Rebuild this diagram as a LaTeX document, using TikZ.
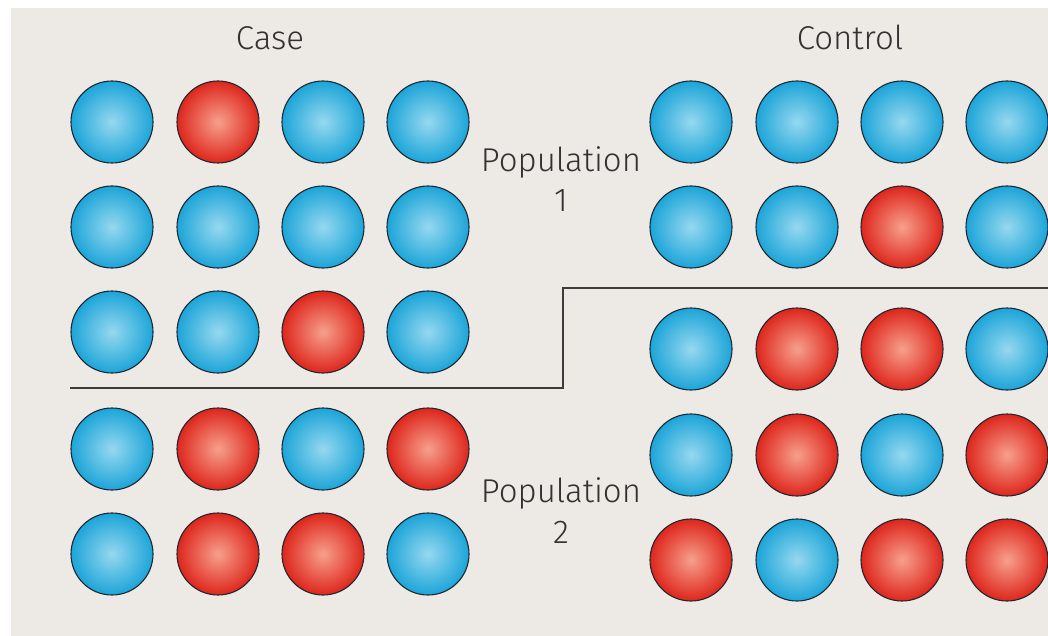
\documentclass[tikz,border=0pt]{standalone}
\usepackage{fontspec}
\setmainfont{Fira Sans Light}
\definecolor{bg}{RGB}{237,233,228}
\definecolor{bluein}{RGB}{150,216,240}
\definecolor{blueout}{RGB}{28,165,216}
\definecolor{redin}{RGB}{246,160,140}
\definecolor{redout}{RGB}{222,38,28}
\definecolor{txt}{RGB}{50,50,50}
\definecolor{edge}{RGB}{30,40,50}
\definecolor{divider}{RGB}{60,60,60}
\tikzset{
  ballB/.style={circle, minimum size=82pt, inner sep=0pt, draw=edge, line width=1.1pt, shade, inner color=bluein, outer color=blueout},
  ballR/.style={circle, minimum size=82pt, inner sep=0pt, draw=edge, line width=1.1pt, shade, inner color=redin, outer color=redout},
  lbl/.style={text=txt, font=\fontsize{33}{40}\selectfont, anchor=base, inner sep=0pt},
  sep/.style={draw=divider, line width=2pt}
}
\begin{document}
\begin{tikzpicture}[x=1pt,y=-1pt]
\useasboundingbox (0,0) rectangle (1048,636);
\fill[white] (0,0) rectangle (1048,636);
\fill[bg] (11,8) rectangle (1048,636);
% left (case) circles
\foreach \c/\x in {1/112,2/218,3/323,4/428}{
  \foreach \r/\y in {1/122,2/227,3/332,4/449,5/554}{
    \coordinate (L\r\c) at (\x,\y);
  }
}
\foreach \c/\x in {1/691,2/797,3/902,4/1007}{
  \foreach \r/\y in {1/122,2/227,3/349,4/455,5/560}{
    \coordinate (R\r\c) at (\x,\y);
  }
}
% case population 1
\foreach \n/\s in {L11/B,L12/R,L13/B,L14/B,L21/B,L22/B,L23/B,L24/B,L31/B,L32/B,L33/R,L34/B,
                   L41/B,L42/R,L43/B,L44/R,L51/B,L52/R,L53/R,L54/B,
                   R11/B,R12/B,R13/B,R14/B,R21/B,R22/B,R23/R,R24/B,
                   R31/B,R32/R,R33/R,R34/B,R41/B,R42/R,R43/B,R44/R,R51/R,R52/B,R53/R,R54/R}{
  \node[ball\s] (b\n) at (\n) {};
}
% labels
\node[lbl] (case) at (270,50) {Case};
\node[lbl] (control) at (850,50) {Control};
\node[lbl] (pop1a) at (561,172) {Population};
\node[lbl] (pop1b) at (561,212) {1};
\node[lbl] (pop2a) at (561,502) {Population};
\node[lbl] (pop2b) at (561,543) {2};
% divider
\coordinate (d1) at (70,388);
\coordinate (d2) at (563,388);
\coordinate (d3) at (563,288);
\coordinate (d4) at (1048,288);
\draw[sep] (d1) -- (d2) -- (d3) -- (d4);
\end{tikzpicture}
\end{document}
